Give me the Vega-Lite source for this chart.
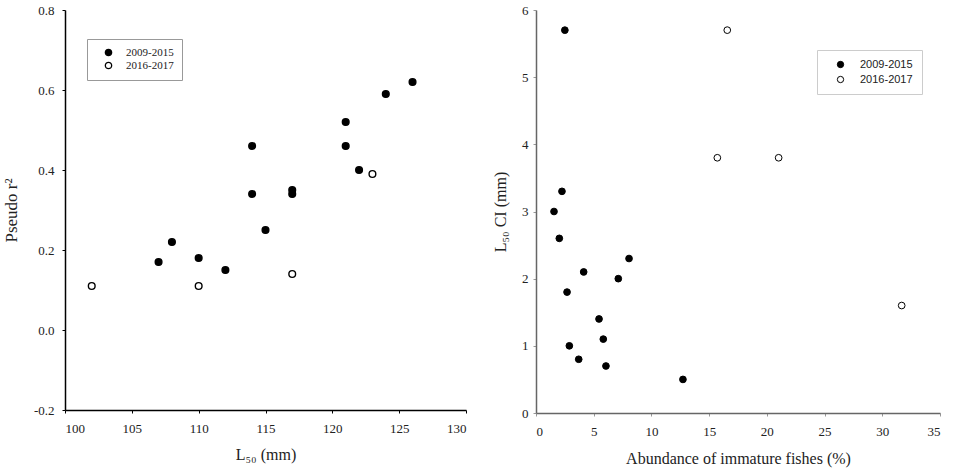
{
  "$schema": "https://vega.github.io/schema/vega-lite/v6.json",
  "background": "white",
  "padding": {"left": 2, "top": 4, "right": 5, "bottom": 5},
  "spacing": 25,
  "datasets": {
    "left": [
      {"L50": 107, "r2": 0.17, "period": "2009-2015"},
      {"L50": 108, "r2": 0.22, "period": "2009-2015"},
      {"L50": 110, "r2": 0.18, "period": "2009-2015"},
      {"L50": 112, "r2": 0.15, "period": "2009-2015"},
      {"L50": 114, "r2": 0.46, "period": "2009-2015"},
      {"L50": 114, "r2": 0.34, "period": "2009-2015"},
      {"L50": 115, "r2": 0.25, "period": "2009-2015"},
      {"L50": 117, "r2": 0.35, "period": "2009-2015"},
      {"L50": 117, "r2": 0.34, "period": "2009-2015"},
      {"L50": 121, "r2": 0.52, "period": "2009-2015"},
      {"L50": 121, "r2": 0.46, "period": "2009-2015"},
      {"L50": 122, "r2": 0.40, "period": "2009-2015"},
      {"L50": 124, "r2": 0.59, "period": "2009-2015"},
      {"L50": 126, "r2": 0.62, "period": "2009-2015"},
      {"L50": 102, "r2": 0.11, "period": "2016-2017"},
      {"L50": 110, "r2": 0.11, "period": "2016-2017"},
      {"L50": 117, "r2": 0.14, "period": "2016-2017"},
      {"L50": 123, "r2": 0.39, "period": "2016-2017"}
    ],
    "right": [
      {"abund": 2.5, "ci": 5.7, "period": "2009-2015"},
      {"abund": 2.25, "ci": 3.3, "period": "2009-2015"},
      {"abund": 1.56, "ci": 3.0, "period": "2009-2015"},
      {"abund": 2.02, "ci": 2.6, "period": "2009-2015"},
      {"abund": 4.13, "ci": 2.1, "period": "2009-2015"},
      {"abund": 8.06, "ci": 2.3, "period": "2009-2015"},
      {"abund": 7.13, "ci": 2.0, "period": "2009-2015"},
      {"abund": 2.69, "ci": 1.8, "period": "2009-2015"},
      {"abund": 5.46, "ci": 1.4, "period": "2009-2015"},
      {"abund": 5.83, "ci": 1.1, "period": "2009-2015"},
      {"abund": 2.89, "ci": 1.0, "period": "2009-2015"},
      {"abund": 3.7, "ci": 0.8, "period": "2009-2015"},
      {"abund": 6.06, "ci": 0.7, "period": "2009-2015"},
      {"abund": 12.73, "ci": 0.5, "period": "2009-2015"},
      {"abund": 16.57, "ci": 5.7, "period": "2016-2017"},
      {"abund": 15.71, "ci": 3.8, "period": "2016-2017"},
      {"abund": 21.02, "ci": 3.8, "period": "2016-2017"},
      {"abund": 31.68, "ci": 1.6, "period": "2016-2017"}
    ]
  },
  "config": {
    "view": {"stroke": null},
    "axis": {
      "grid": false,
      "labelFont": "Liberation Serif",
      "titleFont": "Liberation Serif",
      "labelFontSize": 13,
      "titleFontSize": 16,
      "titleFontWeight": "normal",
      "labelColor": "#222",
      "titleColor": "#222",
      "tickSize": 3
    }
  },
  "resolve": {"legend": {"fill": "independent"}},
  "hconcat": [
    {
      "width": 401,
      "height": 400,
      "data": {"name": "left"},
      "mark": {"type": "point", "filled": true, "stroke": "black", "strokeWidth": 1.4, "size": 45, "opacity": 1},
      "encoding": {
        "x": {
          "field": "L50", "type": "quantitative",
          "scale": {"domain": [100, 130], "nice": false, "zero": false},
          "axis": {"values": [100, 105, 110, 115, 120, 125, 130], "title": "L₅₀ (mm)", "labelFont": "Liberation Serif", "domainColor": "black", "domainWidth": 1.5, "tickColor": "black", "labelPadding": 9, "titlePadding": 11}
        },
        "y": {
          "field": "r2", "type": "quantitative",
          "scale": {"domain": [-0.2, 0.8], "nice": false, "zero": false},
          "axis": {"values": [-0.2, 0, 0.2, 0.4, 0.6, 0.8], "labelExpr": "datum.value < 0 ? '-' + format(-datum.value, '.1f') : format(datum.value, '.1f')", "title": "Pseudo r²", "labelFont": "Liberation Serif", "titleFontSize": 17, "domainColor": "black", "domainWidth": 1.5, "tickColor": "black", "labelPadding": 8, "titlePadding": 13}
        },
        "fill": {
          "field": "period", "type": "nominal",
          "scale": {"domain": ["2009-2015", "2016-2017"], "range": ["black", "white"]},
          "legend": {
            "orient": "none", "legendX": 22, "legendY": 29, "title": null,
            "labelFont": "Liberation Serif", "labelFontSize": 11, "labelColor": "#222",
            "symbolType": "circle", "symbolSize": 40, "symbolStrokeColor": "black", "symbolStrokeWidth": 1.3,
            "padding": 8, "symbolOffset": 8, "rowPadding": 0, "labelOffset": 12,
            "strokeColor": "#999"
          }
        }
      }
    },
    {
      "width": 404,
      "height": 403,
      "data": {"name": "right"},
      "mark": {"type": "point", "filled": true, "stroke": "black", "strokeWidth": 1, "size": 45, "opacity": 1},
      "encoding": {
        "x": {
          "field": "abund", "type": "quantitative",
          "scale": {"domain": [0, 35], "nice": false},
          "axis": {"values": [0, 5, 10, 15, 20, 25, 30, 35], "title": "Abundance of  immature fishes  (%)", "labelFont": "Liberation Serif", "domainColor": "#666", "domainWidth": 1.5, "tickColor": "#999", "labelPadding": 9, "titlePadding": 12}
        },
        "y": {
          "field": "ci", "type": "quantitative",
          "scale": {"domain": [0, 6], "nice": false},
          "axis": {"values": [0, 1, 2, 3, 4, 5, 6], "title": "L₅₀ CI (mm)", "labelFont": "Liberation Serif", "domainColor": "#666", "domainWidth": 1.5, "tickColor": "#999", "labelPadding": 5, "titlePadding": 13}
        },
        "fill": {
          "field": "period", "type": "nominal",
          "scale": {"domain": ["2009-2015", "2016-2017"], "range": ["black", "white"]},
          "legend": {
            "orient": "none", "legendX": 281, "legendY": 40, "title": null,
            "labelFont": "Liberation Sans", "labelFontSize": 11, "labelColor": "#222",
            "symbolType": "circle", "symbolSize": 40, "symbolStrokeColor": "black", "symbolStrokeWidth": 1,
            "strokeColor": "#ccc", "padding": 9, "symbolOffset": 9, "rowPadding": 3, "labelOffset": 14
          }
        }
      }
    }
  ]
}
